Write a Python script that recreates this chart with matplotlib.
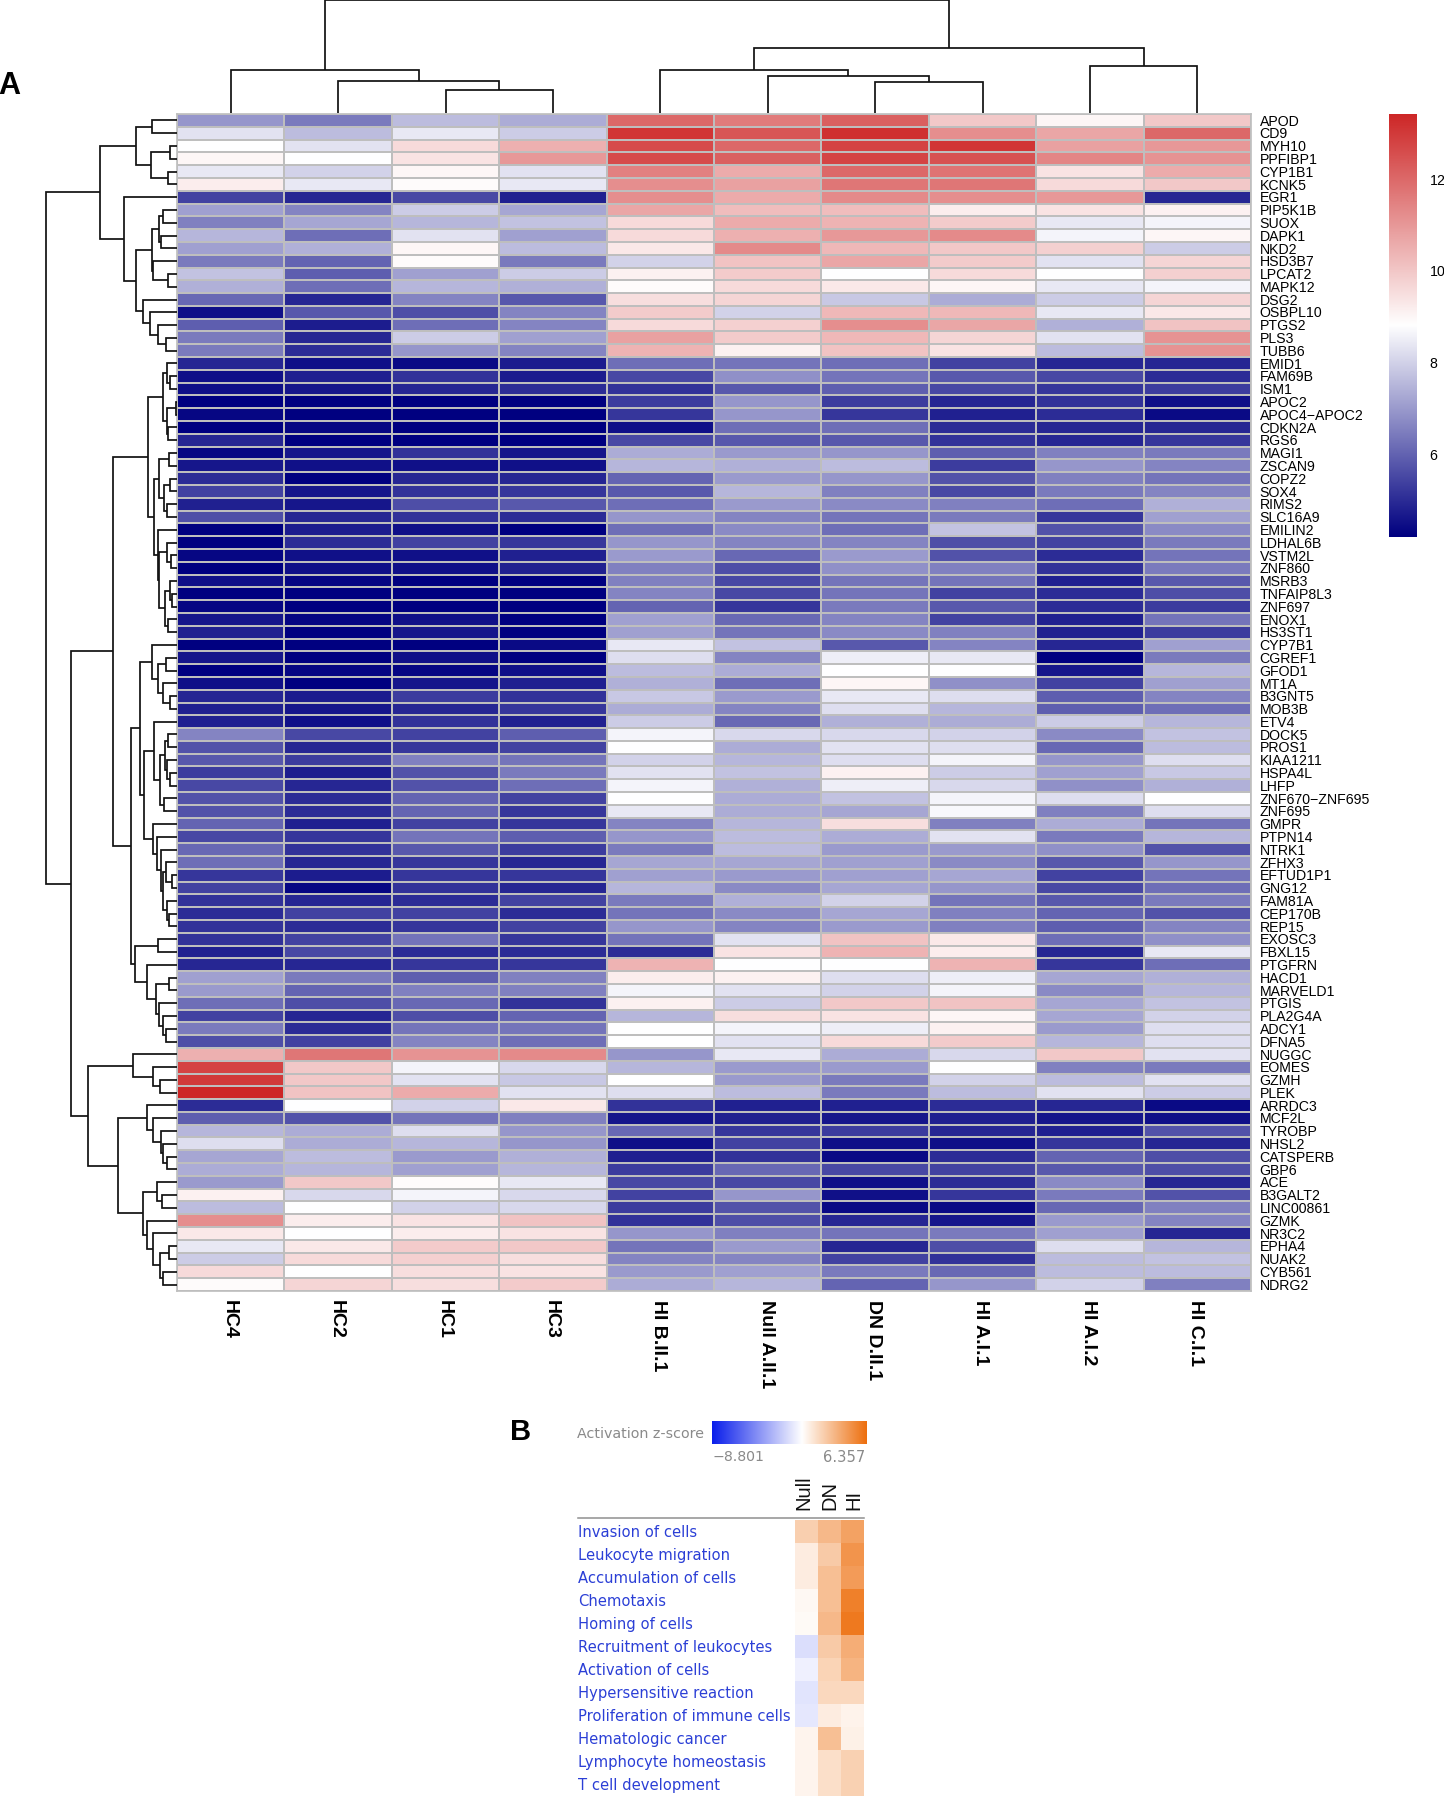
import numpy as np
import matplotlib
matplotlib.use("Agg")
import matplotlib.pyplot as plt
from matplotlib.colors import LinearSegmentedColormap, TwoSlopeNorm, Normalize
from matplotlib.transforms import ScaledTranslation

samples = ["HC4","HC2","HC1","HC3","HI B.II.1","Null A.II.1","DN D.II.1","HI A.I.1","HI A.I.2","HI C.I.1"]
genes = ["APOD","CD9","MYH10","PPFIBP1","CYP1B1","KCNK5","EGR1","PIP5K1B","SUOX","DAPK1","NKD2","HSD3B7","LPCAT2","MAPK12","DSG2","OSBPL10","PTGS2","PLS3","TUBB6",
"EMID1","FAM69B","ISM1","APOC2","APOC4\u2212APOC2","CDKN2A","RGS6","MAGI1","ZSCAN9","COPZ2","SOX4","RIMS2","SLC16A9","EMILIN2","LDHAL6B","VSTM2L","ZNF860","MSRB3","TNFAIP8L3","ZNF697","ENOX1","HS3ST1",
"CYP7B1","CGREF1","GFOD1","MT1A","B3GNT5","MOB3B","ETV4","DOCK5","PROS1","KIAA1211","HSPA4L","LHFP","ZNF670\u2212ZNF695","ZNF695","GMPR","PTPN14","NTRK1","ZFHX3","EFTUD1P1","GNG12","FAM81A","CEP170B","REP15",
"EXOSC3","FBXL15","PTGFRN","HACD1","MARVELD1","PTGIS","PLA2G4A","ADCY1","DFNA5","NUGGC","EOMES","GZMH","PLEK","ARRDC3","MCF2L","TYROBP","NHSL2","CATSPERB","GBP6","ACE","B3GALT2","LINC00861","GZMK","NR3C2","EPHA4","NUAK2","CYB561","NDRG2"]
expression = [
[6.9,6.4,7.6,7.3,12.0,11.6,12.2,10.0,9.0,10.0],
[8.3,7.6,8.4,7.9,13.1,12.4,13.2,11.2,10.7,12.0],
[8.8,8.3,9.6,10.5,12.6,12.0,12.8,13.1,10.8,11.0],
[9.0,8.8,9.4,11.0,12.6,12.2,12.8,12.5,11.4,11.1],
[8.4,8.0,9.0,8.3,11.5,10.6,12.0,11.8,9.4,10.6],
[9.2,8.4,8.9,8.4,11.2,10.8,11.7,11.7,9.6,10.0],
[5.4,4.9,5.5,4.8,11.2,10.6,11.3,11.2,11.0,4.9],
[7.1,6.6,7.9,7.2,10.7,10.2,10.2,9.2,9.4,9.1],
[6.5,7.2,7.5,7.7,9.6,10.6,10.4,9.9,8.4,8.6],
[7.5,6.2,8.3,7.1,9.6,10.5,11.0,11.3,8.6,9.0],
[7.1,7.4,9.0,7.6,9.3,11.3,10.3,10.0,9.8,7.9],
[6.4,6.0,8.9,6.4,8.0,10.1,10.7,9.9,8.3,9.7],
[7.7,5.9,7.1,7.9,9.1,9.9,8.8,9.6,8.8,9.8],
[7.4,6.2,7.5,7.4,8.9,9.6,9.3,9.0,8.4,8.6],
[6.1,4.9,6.6,5.8,9.5,9.7,7.8,7.3,7.9,9.7],
[4.5,5.8,5.6,6.6,9.9,8.0,10.3,10.3,8.4,9.3],
[5.9,4.7,6.2,6.6,9.6,9.8,11.2,10.7,7.4,10.1],
[6.4,4.9,7.9,7.1,10.8,9.9,10.3,9.7,8.3,11.1],
[6.4,5.0,6.9,6.6,10.4,9.1,10.1,9.4,7.6,11.1],
[4.9,4.5,4.4,4.7,6.2,6.3,6.2,5.4,4.9,4.9],
[4.5,4.8,5.1,4.7,5.5,6.8,6.3,5.8,5.5,5.0],
[4.5,4.6,4.9,5.0,5.1,5.8,5.9,5.5,5.2,5.3],
[4.2,4.2,4.2,4.2,5.3,6.9,5.3,4.9,5.1,4.5],
[4.3,4.2,4.2,4.2,5.2,6.9,5.2,4.8,5.0,4.4],
[4.2,4.3,4.2,4.2,4.5,6.2,6.2,5.0,4.9,4.9],
[4.9,4.2,4.2,4.2,5.5,5.8,5.8,5.1,4.9,5.2],
[4.3,4.6,5.1,4.6,7.3,7.0,6.9,5.9,6.5,6.4],
[4.6,4.5,4.5,4.5,7.5,7.4,7.6,5.3,6.9,6.6],
[5.0,4.2,4.9,4.9,6.0,7.0,6.9,5.7,6.5,6.3],
[5.4,4.6,5.1,5.2,5.8,7.5,6.5,5.5,6.4,6.6],
[4.8,4.6,5.6,5.8,6.2,7.0,6.7,6.5,6.2,7.4],
[5.6,4.9,5.1,5.0,6.9,6.6,6.3,6.4,5.2,7.1],
[4.2,4.7,4.5,4.2,6.2,6.7,6.2,7.7,5.7,6.7],
[4.2,5.0,5.4,5.2,6.9,6.6,6.6,5.6,5.4,6.4],
[4.3,4.5,4.5,4.8,7.0,6.1,7.0,5.7,5.0,6.3],
[4.2,4.5,4.5,4.8,6.5,5.6,6.8,6.5,5.1,6.4],
[4.5,4.3,4.2,4.2,6.5,5.5,6.3,6.3,4.8,5.8],
[4.2,4.2,4.2,4.2,6.6,5.5,6.3,5.4,5.0,5.6],
[4.3,4.2,4.2,4.2,6.0,5.2,6.4,5.8,5.0,5.3],
[4.6,4.3,4.5,4.2,7.1,6.1,6.6,5.4,4.8,6.3],
[4.8,4.2,4.6,4.2,7.1,6.3,6.7,6.5,4.8,5.3],
[4.2,4.2,4.2,4.4,8.4,7.7,5.8,6.6,4.9,7.1],
[4.6,4.2,4.5,4.2,8.2,6.6,8.5,8.4,4.2,6.4],
[4.2,4.3,4.3,4.5,7.6,7.3,8.8,8.8,4.6,7.5],
[4.5,4.2,4.6,4.8,7.4,6.2,9.0,6.8,5.4,7.1],
[4.9,4.7,5.3,5.1,7.8,7.0,8.4,8.2,5.9,6.6],
[4.8,4.6,4.9,5.2,7.3,6.6,8.2,7.5,5.9,6.2],
[4.8,4.5,5.1,4.8,7.9,6.1,7.4,7.3,7.9,7.5],
[6.6,5.5,5.4,5.9,8.6,8.1,8.1,8.0,6.7,7.7],
[5.7,4.9,5.2,5.4,8.8,7.3,8.3,8.2,6.1,7.6],
[5.8,5.3,6.5,6.3,8.0,7.5,8.2,8.6,6.9,8.2],
[5.3,4.7,5.7,6.4,8.3,7.7,9.1,7.9,7.1,7.8],
[5.5,4.9,5.7,6.2,8.6,7.4,8.5,8.1,6.8,7.4],
[5.7,5.0,6.0,5.4,8.8,7.3,7.7,8.6,8.2,8.8],
[5.7,5.0,6.0,5.2,8.4,7.3,7.2,8.7,6.5,8.2],
[6.0,4.8,5.4,5.2,6.6,7.5,9.5,6.5,7.3,6.3],
[5.5,5.2,6.3,5.9,6.9,7.6,7.3,8.3,6.4,7.5],
[6.1,5.1,5.8,5.3,6.4,7.6,7.0,7.0,6.8,5.7],
[6.2,4.9,5.2,4.9,7.2,7.2,7.1,6.7,5.8,6.9],
[5.2,4.7,5.2,5.2,7.1,7.0,7.1,7.2,5.4,6.3],
[5.4,4.3,5.1,4.9,7.5,6.7,7.2,6.9,5.5,6.2],
[5.1,4.9,5.0,5.4,6.4,7.4,8.0,6.3,5.8,6.4],
[5.0,5.4,5.4,5.0,6.3,6.7,7.2,6.5,6.0,5.7],
[5.1,5.0,5.2,5.4,6.9,6.6,7.0,6.5,5.9,6.6],
[5.1,5.4,6.3,5.2,6.3,8.3,10.1,9.3,6.2,6.8],
[4.8,5.5,5.0,5.0,5.0,9.4,10.4,9.2,4.9,8.4],
[4.9,4.9,5.2,5.2,10.4,8.8,8.8,10.4,5.2,6.2],
[7.1,6.4,5.9,6.5,9.2,9.1,8.2,8.5,7.2,7.4],
[7.0,6.0,6.5,6.5,8.6,8.3,8.0,8.6,6.7,7.5],
[6.2,5.6,6.1,5.1,9.1,7.9,10.0,10.1,7.2,7.7],
[5.4,4.9,5.6,6.0,7.5,9.5,9.4,9.0,7.2,8.0],
[6.4,5.0,6.3,6.3,8.8,8.6,8.5,9.1,7.0,8.2],
[5.6,5.4,6.6,6.2,8.8,8.3,9.6,9.9,7.5,8.2],
[10.5,11.7,11.1,11.3,6.9,8.4,7.3,8.1,10.0,8.3],
[12.8,10.0,8.6,8.1,7.5,7.0,7.0,8.8,6.5,6.4],
[13.0,10.0,8.3,7.8,8.8,7.0,6.4,8.0,7.6,8.3],
[13.4,10.1,10.6,8.3,8.2,7.6,6.4,7.6,8.3,7.9],
[5.0,8.8,8.0,9.3,5.1,4.8,4.8,5.0,4.9,4.4],
[5.9,5.7,6.3,6.5,4.6,4.8,4.6,4.8,4.6,4.5],
[7.5,7.3,8.2,6.9,6.1,5.2,5.3,4.9,4.8,5.7],
[8.2,7.3,7.5,6.9,4.5,5.4,4.5,4.5,5.2,4.9],
[7.2,7.6,7.0,7.4,4.8,5.1,4.4,5.0,6.0,5.6],
[7.3,7.5,7.1,7.5,5.3,6.1,5.5,5.4,5.8,5.6],
[7.0,10.0,8.9,8.4,5.5,5.5,4.5,5.0,6.7,4.9],
[9.1,8.1,8.6,8.1,5.4,6.9,4.5,5.2,6.4,5.7],
[7.6,8.8,8.0,8.1,5.3,5.7,4.4,4.4,6.1,6.5],
[11.2,9.2,9.4,10.1,5.1,5.6,4.9,4.6,7.0,6.6],
[9.3,8.8,9.2,9.4,6.9,6.5,6.3,6.4,7.1,4.9],
[8.4,9.3,9.9,10.0,6.3,7.0,4.9,5.6,8.2,7.5],
[7.9,9.6,9.8,9.5,6.6,6.6,5.4,5.1,7.6,7.7],
[9.6,8.8,9.5,9.4,7.0,7.1,6.4,6.1,7.6,7.6],
[8.9,9.7,9.5,9.9,7.3,7.5,6.0,6.9,8.0,6.5],
]
expr_ticks = [6, 8, 10, 12]

# merge trees: (height, left, right); an int is a leaf
col_tree = (113,
    (43, 0, (32, 1, (23, 2, 3))),
    (65,
        (43, 4, (37, 5, (31, 6, 7))),
        (47, 8, 9)))

row_top = (77,
    (41, (25, 0, 1), (26, (7, 2, 3), (9, 4, 5))),
    (53, 6,
        (41,
            (25, (18, (14, 7, 8), (16, 9, 10)), (24, 11, (9, 12, 13))),
            (34, 14, (27, 15, (19, 16, (11, 17, 18)))))))
row_a = (29,
    (14, (10, 19, (7, 20, 21)), (10, (1, 22, 23), (9, 24, 25))),
    (23,
        (18, (8, 26, 27), (13, (7, 28, 29), (10, 30, 31))),
        (19, 32,
            (18,
                (10, 33, (6, 34, 35)),
                (12, (7, 36, (5, 37, 38)), (9, 39, 40))))))
row_b1 = (37,
    (25, 41, (19, (11, 42, 43), (14, 44, (7, 45, 46)))),
    (33,
        (23, 47, (17, (12, (9, 48, 49), (10, 50, (7, 51, 52))), (13, 53, 54))),
        (24, 55, (20, 56, (16, 57,
            (14, (11, 58, (5, 59, 60)), (10, 61, (8, 62, 63))))))))
row_b2 = (42,
    (19, 64, 65),
    (30, 66, (21, (8, 67, 68), (18, 69, (14, 70, (11, 71, 72))))))
row_c = (89,
    (44, 73, (24, 74, (17, 75, 76))),
    (59,
        (30, 77, (24, 78, (16, 79, (14, 80, (10, 81, 82))))),
        (34,
            (20, 83, (15, 84, 85)),
            (30, 86, (24, 87, (17, (8, 88, 89), (14, 90, 91)))))))
row_tree = (131, row_top, (106, (64, row_a, (46, row_b1, row_b2)), row_c))

pathways = ["Invasion of cells","Leukocyte migration","Accumulation of cells","Chemotaxis","Homing of cells","Recruitment of leukocytes","Activation of cells","Hypersensitive reaction","Proliferation of immune cells","Hematologic cancer","Lymphocyte homeostasis","T cell development"]
groups = ["Null","DN","HI"]
zscores = [
[2.1,3.1,4.1],
[0.8,2.3,4.7],
[0.8,2.8,4.4],
[0.3,2.8,5.6],
[0.2,3.1,5.9],
[-1.3,2.3,3.6],
[-0.6,1.9,3.3],
[-1.1,1.7,1.7],
[-0.9,0.8,0.5],
[0.45,2.8,0.6],
[0.45,1.4,2.0],
[0.45,1.4,2.0],
]
z_min, z_max = -8.801, 6.357

W, H = 1444, 1800
fig = plt.figure(figsize=(W/100, H/100), dpi=100, facecolor="white")
def box(x0, y0, x1, y1):
    return fig.add_axes([x0/W, 1-y1/H, (x1-x0)/W, (y1-y0)/H])

heat_cmap = LinearSegmentedColormap.from_list("h", ["#000080", "#FFFFFF", "#CD2626"], N=256)
heat_norm = Normalize(4.19, 13.43)
LBL = "Liberation Sans"

# heatmap
ax = box(177, 114, 1251, 1291)
ax.pcolormesh(np.array(expression), cmap=heat_cmap, norm=heat_norm, edgecolors="#BEBEBE", linewidth=1.15)
ax.set_xlim(0, len(samples)); ax.set_ylim(len(genes), 0)
ax.set_xticks(np.arange(len(samples))+.5, samples, rotation=270, fontsize=14, fontweight="bold", family=LBL, ha="center", va="top")
ax.set_yticks(np.arange(len(genes))+.5, genes, fontsize=10.2, family=LBL, va="center")
ax.yaxis.tick_right()
ax.tick_params(axis="both", length=0)
ax.tick_params(axis="x", pad=6.5)
ax.tick_params(axis="y", pad=6.2)
nudge_y = ScaledTranslation(0, -1.2/100, fig.dpi_scale_trans)
for t in ax.get_yticklabels():
    t.set_transform(t.get_transform() + nudge_y)
nudge_x = ScaledTranslation(-1.5/100, 0, fig.dpi_scale_trans)
for t in ax.get_xticklabels():
    t.set_transform(t.get_transform() + nudge_x)
for s in ax.spines.values():
    s.set_color("#BEBEBE"); s.set_linewidth(1.2)

def draw_tree(a, node, vertical):
    if isinstance(node, int):
        return node + .5, 0
    h, l, r = node
    p1, h1 = draw_tree(a, l, vertical)
    p2, h2 = draw_tree(a, r, vertical)
    ps, hs = [p1, p1, p2, p2], [h1, h, h, h2]
    if vertical:
        a.plot(ps, hs, color="#111111", lw=1.25, solid_joinstyle="miter", solid_capstyle="butt", clip_on=False)
    else:
        a.plot(hs, ps, color="#111111", lw=1.25, solid_joinstyle="miter", solid_capstyle="butt", clip_on=False)
    return (p1 + p2) / 2, h

# column dendrogram
ac = box(177, 0, 1251, 113)
draw_tree(ac, col_tree, True)
ac.set_xlim(0, len(samples)); ac.set_ylim(0, 113); ac.axis("off")

# row dendrogram
ar = box(0, 114, 177, 1291)
draw_tree(ar, row_tree, False)
ar.set_xlim(177, 0); ar.set_ylim(len(genes), 0); ar.axis("off")

# heat colour bar
cb = box(1389, 113.5, 1417, 537)
cb.imshow(np.linspace(heat_norm.vmax, heat_norm.vmin, 256)[:, None], cmap=heat_cmap, norm=heat_norm,
          aspect="auto", extent=[0, 1, heat_norm.vmin, heat_norm.vmax])
cb.set_xticks([]); cb.set_yticks(expr_ticks, [str(t) for t in expr_ticks], fontsize=10.2, family=LBL)
cb.yaxis.tick_right(); cb.tick_params(axis="y", length=0, pad=9)
for s in cb.spines.values():
    s.set_visible(False)

# panel B
z_cmap = LinearSegmentedColormap.from_list("z", ["#0A1EEB", "#FFFFFF", "#ED6F0E"], N=256)
z_norm = TwoSlopeNorm(vcenter=0, vmin=z_min, vmax=z_max)
bh = box(795, 1520, 864, 1796)
bh.pcolormesh(np.array(zscores), cmap=z_cmap, norm=z_norm, edgecolors="none")
bh.set_ylim(len(pathways), 0); bh.set_xlim(0, len(groups))
bh.axis("off")

bc = box(712, 1421, 866, 1444)
bc.imshow(np.linspace(z_min, z_max, 512)[None, :], cmap=z_cmap, norm=z_norm, aspect="auto")
bc.axis("off")

# overlay in figure pixels for free-standing text
pg = fig.add_axes([0, 0, 1, 1], facecolor="none")
pg.set_xlim(0, W); pg.set_ylim(H, 0); pg.axis("off")
pg.text(-2, 86, "A", fontsize=22, fontweight="bold", family=LBL, va="center", ha="left")
pg.text(510, 1432, "B", fontsize=21, fontweight="bold", family=LBL, va="center", ha="left")
pg.text(704, 1433.5, "Activation z-score", fontsize=10.25, color="#8A8A8A", family="DejaVu Sans", ha="right", va="center")
pg.text(712, 1457, "\u22128.801", fontsize=10.2, color="#8A8A8A", family="DejaVu Sans", ha="left", va="center")
pg.text(865, 1457, "6.357", fontsize=10.6, color="#8A8A8A", family="DejaVu Sans", ha="right", va="center")
for g, xc in zip(groups, [804, 830, 854]):
    pg.text(xc, 1510, g, rotation=90, fontsize=14.5, family=LBL, ha="center", va="bottom", color="#111111")
pg.plot([578, 864], [1518, 1518], color="#8F8F8F", lw=1.1)
for i, p in enumerate(pathways):
    pg.text(578, 1532.5 + 23*i, p, fontsize=10.6, color="#2B3FD6", family="DejaVu Sans", ha="left", va="center")

fig.savefig("out.png", dpi=100, facecolor="white")
